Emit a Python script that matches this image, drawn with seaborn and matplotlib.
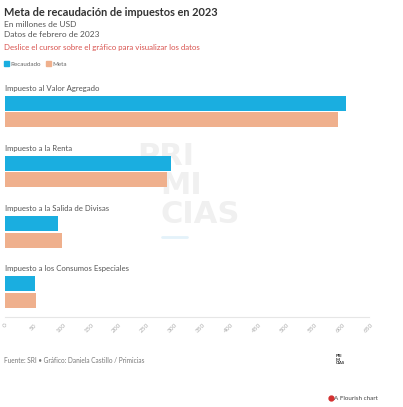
import numpy as np
import pandas as pd
import matplotlib.pyplot as plt
import seaborn as sns

# Datos (millones de USD)
impuestos = ['Impuesto al Valor Agregado', 'Impuesto a la Renta',
             'Impuesto a la Salida de Divisas', 'Impuesto a los Consumos Especiales']
recaudado = [609, 296, 95, 53]
meta = [594, 290, 102, 55]
ticks_x = list(range(0, 651, 50))

df = pd.DataFrame({
    'Impuesto': impuestos * 2,
    'Valor': recaudado + meta,
    'Serie': ['Recaudado'] * 4 + ['Meta'] * 4,
})

azul = '#1aaee0'
salmon = '#efb08d'

sns.set_theme(style='white')
plt.rcParams['font.family'] = ['Lato', 'DejaVu Sans']

fig = plt.figure(figsize=(4.03, 4.07), dpi=100)
ax = fig.add_axes([0.0124, 0.2211, 0.9032, 0.5939])
ax.set_zorder(1)

# Marca de agua (detrás de las barras)
marca = dict(fontsize=22, fontweight='bold', color='#f0f0f0', family='DejaVu Sans', zorder=-5)
fig.text(137 / 403, 1 - 165 / 407, 'PRI', **marca)
fig.text(160 / 403, 1 - 194 / 407, 'MI', **marca)
fig.text(160 / 403, 1 - 223 / 407, 'CIAS', **marca)
fig.add_artist(plt.Line2D([162 / 403, 187 / 403], [1 - 237 / 407] * 2, color='#e4f2fa', lw=2, zorder=-5))

sns.barplot(data=df, x='Valor', y='Impuesto', hue='Serie', orient='h',
            palette={'Recaudado': azul, 'Meta': salmon}, width=0.55, gap=0.1,
            saturation=1, legend=False, ax=ax)
for p in ax.patches:
    p.set_edgecolor('none')

ax.set_facecolor('none')
ax.patch.set_alpha(0)
ax.set_xlim(0, 650)
ax.set_ylim(3.415, -0.6)
ax.set_xticks(ticks_x)
ax.set_xticklabels([str(t) for t in ticks_x], rotation=45, fontsize=4.6, color='#aaaaaa')
ax.tick_params(axis='x', length=0, pad=4)
ax.set_yticks([])
ax.set_xlabel('')
ax.set_ylabel('')
for s in ['top', 'right', 'left']:
    ax.spines[s].set_visible(False)
ax.spines['bottom'].set_color('#e6e6e6')
ax.spines['bottom'].set_linewidth(0.8)

# Etiquetas de cada grupo
for i, nombre in enumerate(impuestos):
    ax.text(0, i - 0.33, nombre, fontsize=5.6, color='#555555', va='bottom', ha='left')

# Títulos
fig.text(4 / 403, 1 - 16 / 407, 'Meta de recaudación de impuestos en 2023',
         fontsize=7.9, fontweight='bold', color='#333333')
fig.text(4 / 403, 1 - 27 / 407, 'En millones de USD', fontsize=6.0, color='#555555')
fig.text(4 / 403, 1 - 37 / 407, 'Datos de febrero de 2023', fontsize=6.0, color='#555555')
fig.text(4 / 403, 1 - 50 / 407, 'Deslice el cursor sobre el gráfico para visualizar los datos',
         fontsize=5.7, color='#d9534f')

# Leyenda
fig.patches.append(plt.Rectangle((4 / 403, 1 - 66 / 407), 5 / 403, 5 / 407,
                                 transform=fig.transFigure, color=azul))
fig.text(10.5 / 403, 1 - 65.5 / 407, 'Recaudado', fontsize=4.5, color='#666666')
fig.patches.append(plt.Rectangle((46 / 403, 1 - 66 / 407), 5 / 403, 5 / 407,
                                 transform=fig.transFigure, color=salmon))
fig.text(52.5 / 403, 1 - 65.5 / 407, 'Meta', fontsize=4.5, color='#666666')

# Pie
fig.text(4 / 403, 1 - 363 / 407, 'Fuente: SRI • Gráfico: Daniela Castillo / Primicias',
         fontsize=4.7, color='#777777')
fig.text(336 / 403, 1 - 354 / 407, 'PRI\nMI\nCIAS', fontsize=3, fontweight='bold',
         color='#222222', linespacing=0.9, va='top')
fig.add_artist(plt.Line2D([331 / 403], [1 - 398 / 407], marker='o', color='#d32f2f', markersize=3.5))
fig.text(334 / 403, 1 - 400 / 407, 'A Flourish chart', fontsize=4.5, color='#444444')

fig.savefig('out.png', dpi=100)
